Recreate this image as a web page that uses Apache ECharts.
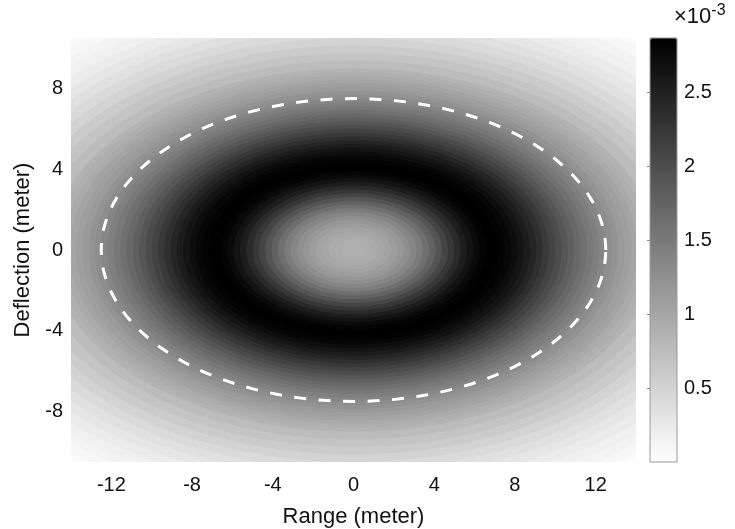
<!DOCTYPE html>
<html>
<head>
<meta charset="utf-8">
<script src="https://cdn.jsdelivr.net/npm/echarts@6/dist/echarts.min.js"></script>
<style>
html,body{margin:0;padding:0;background:#fff;}
#chart{width:735px;height:529px;}
</style>
</head>
<body>
<div id="chart"></div>
<script>
// Elliptical radial profile: normalised radius r = sqrt((x/12.5)^2+(y/7.5)^2)
var ringRadius = [0.000,0.025,0.050,0.075,0.100,0.125,0.150,0.175,0.200,0.225,0.250,0.275,0.300,0.325,0.350,0.375,0.400,0.425,0.450,0.475,0.500,0.525,0.550,0.575,0.600,0.625,0.650,0.675,0.700,0.725,0.750,0.775,0.800,0.825,0.850,0.875,0.900,0.925,0.950,0.975,1.000,1.025,1.050,1.075,1.100,1.125,1.150,1.175,1.200,1.250,1.300,1.350,1.400,1.450,1.500,1.550,1.600,1.650,1.700,1.750,1.800,1.850];
// density values (x 10^-3)
var ringValue = [0.88,0.89,0.90,0.92,0.95,0.99,1.04,1.10,1.17,1.26,1.36,1.48,1.62,1.77,1.93,2.09,2.25,2.40,2.54,2.66,2.76,2.83,2.87,2.87,2.84,2.79,2.72,2.64,2.55,2.45,2.34,2.23,2.12,2.01,1.90,1.80,1.70,1.61,1.52,1.44,1.36,1.28,1.21,1.14,1.08,1.02,0.96,0.90,0.85,0.75,0.66,0.58,0.50,0.42,0.35,0.28,0.22,0.17,0.13,0.09,0.06,0.04];
var ellipseCenter = [0, 0];
var ellipseSemiAxes = [12.5, 7.5];   // dashed ellipse semi-axes (meter)
var xTicks = [-12, -8, -4, 0, 4, 8, 12];
var yTicks = [-8, -4, 0, 4, 8];
var cbTicks = [0.5, 1, 1.5, 2, 2.5];
var valueMin = 0, valueMax = 2.87;

var FONT = 'Liberation Sans, Arial, Helvetica, sans-serif';

var ringData = [];
for (var i = ringRadius.length - 1; i >= 0; i--) ringData.push([ringRadius[i], ringValue[i]]);

function ellipsePoints(api, ra, rb) {
  var pts = [];
  var N = 180;
  for (var k = 0; k < N; k++) {
    var t = 2 * Math.PI * k / N;
    pts.push(api.coord([ellipseCenter[0] + ra * Math.cos(t), ellipseCenter[1] + rb * Math.sin(t)]));
  }
  return pts;
}

var chart = echarts.init(document.getElementById('chart'), null, {renderer: 'canvas'});
chart.setOption({
  animation: false,
  backgroundColor: '#ffffff',
  grid: [
    {left: 71, top: 38, width: 565, height: 424, show: false, containLabel: false, outerBoundsMode: 'none'},
    {left: 650, top: 38, width: 27, height: 424, show: true, borderColor: '#9a9a9a', borderWidth: 1, backgroundColor: 'transparent', z: 10, containLabel: false, outerBoundsMode: 'none'}
  ],
  xAxis: [
    {gridIndex: 0, type: 'value', min: -14, max: 14,
     axisLine: {show: true, lineStyle: {color: '#c4c4c4', width: 1}},
     axisTick: {show: false}, splitLine: {show: false},
     axisLabel: {customValues: xTicks, fontSize: 20, color: '#111', fontFamily: FONT, margin: 13},
     name: 'Range (meter)', nameLocation: 'middle', nameGap: 44,
     nameTextStyle: {fontSize: 22, color: '#111', fontFamily: FONT}},
    {gridIndex: 1, type: 'value', min: 0, max: 1, show: false}
  ],
  yAxis: [
    {gridIndex: 0, type: 'value', min: -10.5, max: 10.5,
     axisLine: {show: true, lineStyle: {color: '#c4c4c4', width: 1}},
     axisTick: {show: false}, splitLine: {show: false},
     axisLabel: {customValues: yTicks, fontSize: 20, color: '#111', fontFamily: FONT, margin: 8},
     name: 'Deflection (meter)', nameLocation: 'middle', nameGap: 32,
     nameTextStyle: {fontSize: 22, color: '#111', fontFamily: FONT}},
    {gridIndex: 1, type: 'value', min: valueMin, max: valueMax, position: 'right',
     axisLine: {show: false},
     axisTick: {show: true, inside: true, length: 3, customValues: cbTicks, lineStyle: {color: '#888'}},
     splitLine: {show: false},
     axisLabel: {customValues: cbTicks, fontSize: 20, color: '#111', fontFamily: FONT, margin: 7}}
  ],
  visualMap: {
    type: 'continuous', seriesIndex: 0, dimension: 1,
    min: valueMin, max: valueMax, calculable: false, hoverLink: false,
    inRange: {color: ['#ffffff', '#000000']},
    left: 650, top: 38, itemWidth: 27, itemHeight: 424, padding: 0,
    text: null, show: true
  },
  graphic: [{
    type: 'text', left: 674, top: 3,
    style: {
      text: '{a|×10}{b|-3}',
      rich: {
        a: {fontSize: 22, fontFamily: FONT, fill: '#111', verticalAlign: 'bottom'},
        b: {fontSize: 16, fontFamily: FONT, fill: '#111', verticalAlign: 'top', padding: [0, 0, 9, 0]}
      }
    }
  }],
  series: [
    {
      type: 'custom', xAxisIndex: 0, yAxisIndex: 0, coordinateSystem: 'cartesian2d',
      clip: true, silent: true,
      data: ringData,
      renderItem: function (params, api) {
        var r = api.value(0);
        return {
          type: 'polygon',
          shape: {points: ellipsePoints(api, ellipseSemiAxes[0] * r, ellipseSemiAxes[1] * r)},
          style: {fill: api.visual('color'), stroke: null}
        };
      }
    },
    {
      type: 'custom', xAxisIndex: 0, yAxisIndex: 0, coordinateSystem: 'cartesian2d',
      clip: true, silent: true,
      data: [ellipseSemiAxes],
      renderItem: function (params, api) {
        return {
          type: 'polygon',
          shape: {points: ellipsePoints(api, api.value(0), api.value(1))},
          style: {fill: null, stroke: '#ffffff', lineWidth: 3, lineDash: [12, 12.5]}
        };
      }
    }
  ]
});
</script>
</body>
</html>
